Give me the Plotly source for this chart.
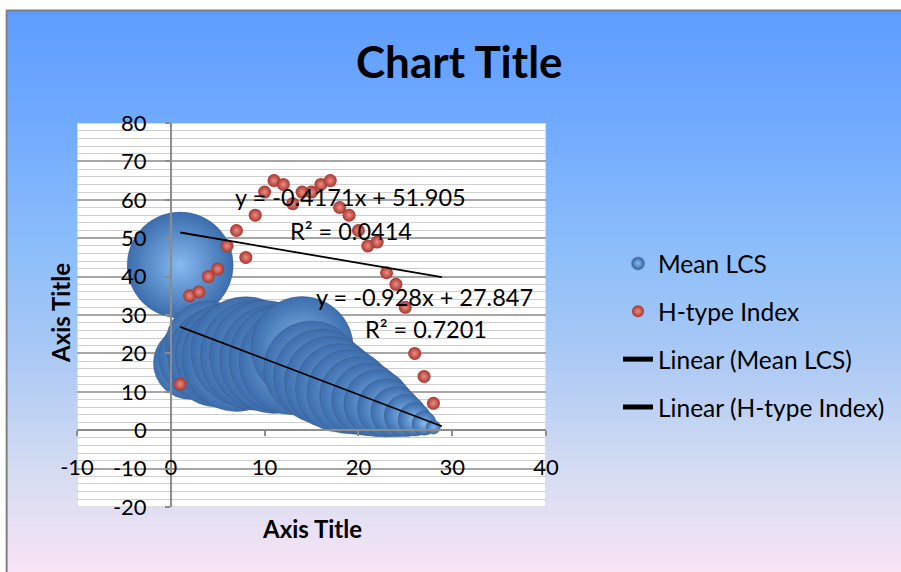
import numpy as np
import plotly.graph_objects as go

# ---------------- data ----------------
x_vals = list(range(1, 29))
mean_lcs = [43, 17.5, 19, 22.5, 19, 19.5, 19, 20.5, 19.5, 19.5, 18.5, 18.5, 18, 21.5,
            16, 14, 12.5, 11, 10, 9, 8, 7, 5.8, 4.8, 3.8, 2.8, 1.8, 0.8]
mean_lcs_bubble = [43, 20, 24.5, 28, 38, 41, 45, 46, 46, 46, 45, 45, 44, 40,
                   35, 34, 32, 30, 27, 23, 20, 17, 13, 9.6, 6.8, 4.2, 2.2, 0.75]
h_type = [12, 35, 36, 40, 42, 48, 52, 45, 56, 62, 65, 64, 59, 62, 62,
          64, 65, 58, 56, 52, 48, 49, 41, 38, 32, 20, 14, 7]

trend_lcs = (-0.928, 27.847)
trend_h = (-0.4171, 51.905)
trend_forward = 0.9
eq_lcs = ["y = -0.928x + 27.847", "R² = 0.7201"]
eq_h = ["y = -0.4171x + 51.905", "R² = 0.0414"]

x_ticks = [-10, 0, 10, 20, 30, 40]
y_ticks = [-20, -10, 0, 10, 20, 30, 40, 50, 60, 70, 80]

# ---------------- layout geometry ----------------
W, H = 901, 572
L, R, T, B = 77, 547, 123, 507
PW, PH = R - L, B - T
FONT = "Lato"


def pxx(px):
    return (px - L) / PW


def pxy(py):
    return (B - py) / PH


fig = go.Figure()

ref_px = 106.0  # diameter of the first bubble
sizeref = 2.0 * mean_lcs_bubble[0] / ref_px ** 2

fig.add_trace(go.Scatter(
    x=x_vals, y=mean_lcs, mode="markers", name="Mean LCS",
    legendgroup="a",
    marker=dict(size=mean_lcs_bubble, sizemode="area", sizeref=sizeref,
                color="#3c6dad", opacity=1,
                gradient=dict(type="radial", color="#86baf0"),
                line=dict(color="rgba(60,85,120,0.5)", width=0.8)),
))
fig.add_trace(go.Scatter(
    x=x_vals, y=h_type, mode="markers", name="H-type Index",
    legendgroup="b",
    marker=dict(size=13, color="#a8352e", opacity=1,
                gradient=dict(type="radial", color="#ec8e84"),
                line=dict(width=0)),
))

xt = np.array([min(x_vals), max(x_vals) + trend_forward])
fig.add_trace(go.Scatter(
    x=xt, y=trend_lcs[0] * xt + trend_lcs[1], mode="lines",
    name="Linear (Mean LCS)", legendgroup="c",
    line=dict(color="black", width=1.8)))
fig.add_trace(go.Scatter(
    x=xt, y=trend_h[0] * xt + trend_h[1], mode="lines",
    name="Linear (H-type Index)", legendgroup="d",
    line=dict(color="black", width=1.8)))

# ---------------- background gradient ----------------
stops = [(10, (94, 157, 255)), (120, (112, 170, 255)), (250, (140, 190, 250)),
         (350, (168, 200, 245)), (470, (212, 220, 242)), (572, (248, 228, 245))]


def col_at(py):
    for (y0, c0), (y1, c1) in zip(stops[:-1], stops[1:]):
        if y0 <= py <= y1:
            t = (py - y0) / (y1 - y0)
            return "rgb(%d,%d,%d)" % tuple(round(a + (b - a) * t) for a, b in zip(c0, c1))
    return "rgb(%d,%d,%d)" % stops[-1][1]


shapes = []
step = 4
for py in range(11, H + step, step):
    shapes.append(dict(type="rect", xref="paper", yref="paper", layer="below",
                       x0=pxx(7), x1=pxx(W + 5), y0=pxy(py), y1=pxy(py + step + 1),
                       fillcolor=col_at(py + step / 2), line=dict(width=0)))
shapes.append(dict(type="line", xref="paper", yref="paper", layer="below",
                   x0=pxx(6), x1=pxx(W + 5), y0=pxy(10.5), y1=pxy(10.5),
                   line=dict(color="#7f7f7f", width=2)))
shapes.append(dict(type="line", xref="paper", yref="paper", layer="below",
                   x0=pxx(6.5), x1=pxx(6.5), y0=pxy(10), y1=pxy(H + 5),
                   line=dict(color="#7f7f7f", width=2)))
shapes.append(dict(type="rect", xref="x", yref="y", layer="below",
                   x0=x_ticks[0], x1=x_ticks[-1], y0=y_ticks[0], y1=y_ticks[-1],
                   fillcolor="white", line=dict(color="#bfbfbf", width=1)))

# ---------------- annotations ----------------
ann = []


def add_text(text, px, py, size, angle=0):
    ann.append(dict(text=text, x=pxx(px), y=pxy(py), xref="paper", yref="paper",
                    xanchor="center", yanchor="middle", showarrow=False,
                    textangle=angle, font=dict(family=FONT, size=size, color="black")))


add_text("<b>Chart Title</b>", 460, 61, 44)
add_text("<b>Axis Title</b>", 312, 528, 24)
add_text("<b>Axis Title</b>", 60, 313, 24, -90)
add_text(eq_h[0], 351, 197, 23.5)
add_text(eq_h[1], 351.5, 231, 23.5)
add_text(eq_lcs[0], 425.5, 297, 23.5)
add_text(eq_lcs[1], 426.5, 329, 23.5)

axis_col = "#8c8c8c"
fig.update_layout(
    width=W, height=H,
    margin=dict(l=L, r=W - R, t=T, b=H - B, pad=0),
    paper_bgcolor="white", plot_bgcolor="rgba(0,0,0,0)",
    shapes=shapes, annotations=ann,
    showlegend=True,
    legend=dict(x=pxx(618), y=pxy(241), xanchor="left", yanchor="top",
                bgcolor="rgba(0,0,0,0)", font=dict(family=FONT, size=24.5, color="black"),
                itemsizing="constant", tracegroupgap=13),
    xaxis=dict(range=[x_ticks[0], x_ticks[-1]], tickvals=x_ticks,
               ticktext=[str(v) for v in x_ticks], anchor="free",
               position=pxy(430), showline=True, linecolor=axis_col, linewidth=1.5,
               ticks="outside", ticklen=5, tickcolor=axis_col, tickwidth=1.5,
               showgrid=False, zeroline=False, ticklabelstandoff=13,
               tickfont=dict(family=FONT, size=22, color="black")),
    yaxis=dict(range=[y_ticks[0], y_ticks[-1]], tickvals=y_ticks,
               ticktext=[str(v) for v in y_ticks], anchor="free",
               position=pxx(171), showline=True, linecolor=axis_col, linewidth=1.5,
               ticks="outside", ticklen=5, tickcolor=axis_col, tickwidth=1.5,
               showgrid=True, gridcolor="#a6a6a6", gridwidth=1.5, zeroline=False,
               minor=dict(dtick=2, showgrid=True, gridcolor="#cfcfcf", gridwidth=1),
               ticklabelstandoff=14,
               tickfont=dict(family=FONT, size=22, color="black")),
)

fig.write_html("out.html")
